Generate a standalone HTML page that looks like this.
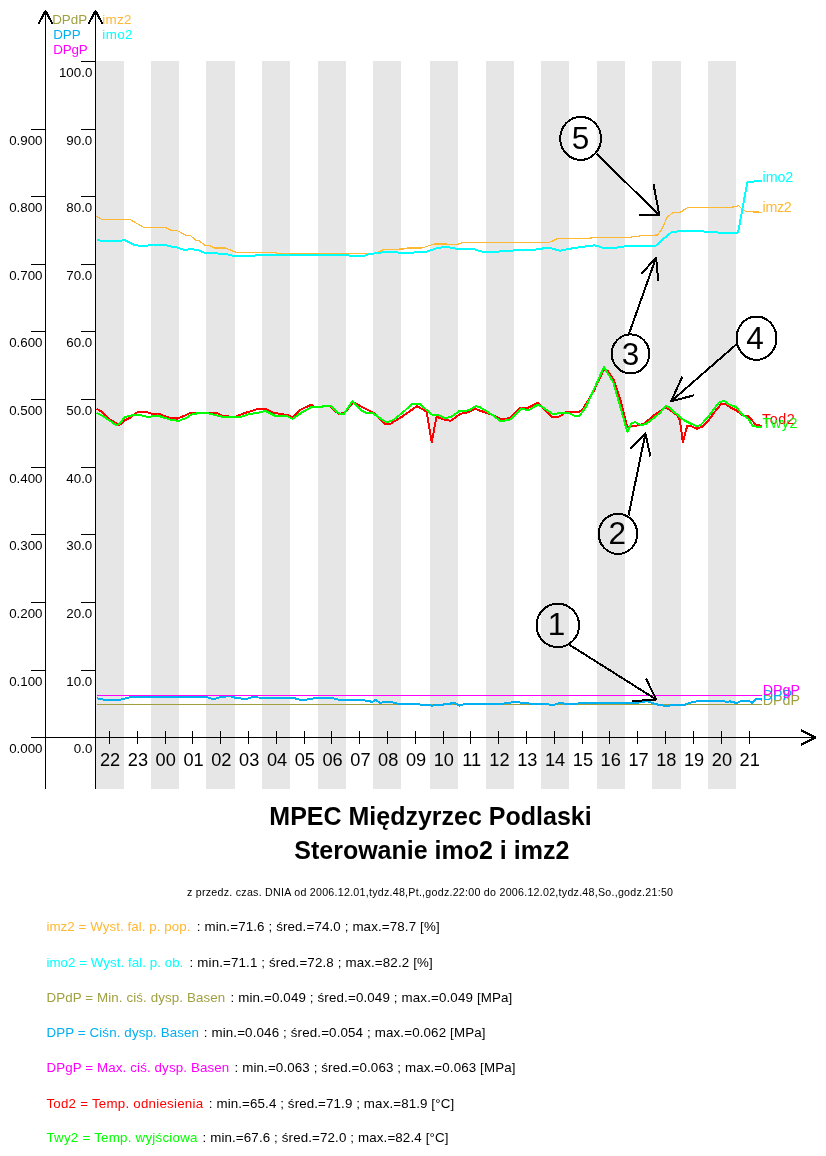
<!DOCTYPE html>
<html lang="pl"><head><meta charset="utf-8"><title>MPEC Międzyrzec Podlaski - Sterowanie imo2 i imz2</title>
<style>html,body{margin:0;padding:0;background:#fff}body{width:826px;height:1156px;overflow:hidden}svg{display:block}text{font-family:"Liberation Sans", sans-serif}</style>
</head><body>
<svg width="826" height="1156" viewBox="0 0 826 1156">
<rect x="0" y="0" width="826" height="1156" fill="#ffffff"/>
<g fill="#e6e6e6" shape-rendering="crispEdges">
<rect x="96" y="61" width="28" height="728"/>
<rect x="151" y="61" width="28" height="728"/>
<rect x="206" y="61" width="29" height="728"/>
<rect x="262" y="61" width="28" height="728"/>
<rect x="318" y="61" width="28" height="728"/>
<rect x="373" y="61" width="28" height="728"/>
<rect x="430" y="61" width="28" height="728"/>
<rect x="486" y="61" width="28" height="728"/>
<rect x="541" y="61" width="28" height="728"/>
<rect x="597" y="61" width="28" height="728"/>
<rect x="652" y="61" width="29" height="728"/>
<rect x="708" y="61" width="28" height="728"/>
</g>
<g stroke="#000" stroke-width="1.3" fill="none" shape-rendering="crispEdges">
<line x1="45.5" y1="12" x2="45.5" y2="789"/>
<line x1="95.5" y1="12" x2="95.5" y2="789"/>
<line x1="31" y1="737.5" x2="815" y2="737.5"/>
<line x1="31" y1="670.5" x2="45.5" y2="670.5"/>
<line x1="31" y1="602.5" x2="45.5" y2="602.5"/>
<line x1="31" y1="534.5" x2="45.5" y2="534.5"/>
<line x1="31" y1="467.5" x2="45.5" y2="467.5"/>
<line x1="31" y1="399.5" x2="45.5" y2="399.5"/>
<line x1="31" y1="331.5" x2="45.5" y2="331.5"/>
<line x1="31" y1="264.5" x2="45.5" y2="264.5"/>
<line x1="31" y1="196.5" x2="45.5" y2="196.5"/>
<line x1="31" y1="129.5" x2="45.5" y2="129.5"/>
<line x1="81" y1="670.5" x2="95.5" y2="670.5"/>
<line x1="81" y1="602.5" x2="95.5" y2="602.5"/>
<line x1="81" y1="534.5" x2="95.5" y2="534.5"/>
<line x1="81" y1="467.5" x2="95.5" y2="467.5"/>
<line x1="81" y1="399.5" x2="95.5" y2="399.5"/>
<line x1="81" y1="331.5" x2="95.5" y2="331.5"/>
<line x1="81" y1="264.5" x2="95.5" y2="264.5"/>
<line x1="81" y1="196.5" x2="95.5" y2="196.5"/>
<line x1="81" y1="129.5" x2="95.5" y2="129.5"/>
<line x1="81" y1="61.5" x2="95.5" y2="61.5"/>
<line x1="109.5" y1="731" x2="109.5" y2="744"/>
<line x1="137.5" y1="731" x2="137.5" y2="744"/>
<line x1="165.5" y1="731" x2="165.5" y2="744"/>
<line x1="192.5" y1="731" x2="192.5" y2="744"/>
<line x1="220.5" y1="731" x2="220.5" y2="744"/>
<line x1="248.5" y1="731" x2="248.5" y2="744"/>
<line x1="276.5" y1="731" x2="276.5" y2="744"/>
<line x1="304.5" y1="731" x2="304.5" y2="744"/>
<line x1="331.5" y1="731" x2="331.5" y2="744"/>
<line x1="359.5" y1="731" x2="359.5" y2="744"/>
<line x1="387.5" y1="731" x2="387.5" y2="744"/>
<line x1="415.5" y1="731" x2="415.5" y2="744"/>
<line x1="443.5" y1="731" x2="443.5" y2="744"/>
<line x1="470.5" y1="731" x2="470.5" y2="744"/>
<line x1="498.5" y1="731" x2="498.5" y2="744"/>
<line x1="526.5" y1="731" x2="526.5" y2="744"/>
<line x1="554.5" y1="731" x2="554.5" y2="744"/>
<line x1="582.5" y1="731" x2="582.5" y2="744"/>
<line x1="609.5" y1="731" x2="609.5" y2="744"/>
<line x1="637.5" y1="731" x2="637.5" y2="744"/>
<line x1="665.5" y1="731" x2="665.5" y2="744"/>
<line x1="693.5" y1="731" x2="693.5" y2="744"/>
<line x1="721.5" y1="731" x2="721.5" y2="744"/>
<line x1="749.5" y1="731" x2="749.5" y2="744"/>
</g>
<g stroke="#000" stroke-width="2" fill="none" stroke-linecap="square" stroke-linejoin="bevel" shape-rendering="crispEdges">
<polyline points="39,23 45.5,10.8 52,23"/>
<polyline points="89,23 95.5,10.8 102,23"/>
<polyline points="801.6,730.6 815.3,737.5 801.6,744.4"/>
</g>
<g font-size="13.33px" fill="#000" text-anchor="end">
<text x="42.5" y="752.6">0.000</text>
<text x="42.5" y="685.6">0.100</text>
<text x="42.5" y="617.6">0.200</text>
<text x="42.5" y="549.6">0.300</text>
<text x="42.5" y="482.6">0.400</text>
<text x="42.5" y="414.6">0.500</text>
<text x="42.5" y="346.6">0.600</text>
<text x="42.5" y="279.6">0.700</text>
<text x="42.5" y="211.6">0.800</text>
<text x="42.5" y="144.6">0.900</text>
<text x="92.3" y="752.6">0.0</text>
<text x="92.3" y="685.6">10.0</text>
<text x="92.3" y="617.6">20.0</text>
<text x="92.3" y="549.6">30.0</text>
<text x="92.3" y="482.6">40.0</text>
<text x="92.3" y="414.6">50.0</text>
<text x="92.3" y="346.6">60.0</text>
<text x="92.3" y="279.6">70.0</text>
<text x="92.3" y="211.6">80.0</text>
<text x="92.3" y="144.6">90.0</text>
<text x="92.3" y="76.6">100.0</text>
</g>
<g font-size="18.2px" fill="#000" text-anchor="middle">
<text x="110.1" y="765.5">22</text>
<text x="137.9" y="765.5">23</text>
<text x="165.7" y="765.5">00</text>
<text x="193.5" y="765.5">01</text>
<text x="221.3" y="765.5">02</text>
<text x="249.2" y="765.5">03</text>
<text x="277.0" y="765.5">04</text>
<text x="304.8" y="765.5">05</text>
<text x="332.6" y="765.5">06</text>
<text x="360.4" y="765.5">07</text>
<text x="388.2" y="765.5">08</text>
<text x="416.0" y="765.5">09</text>
<text x="443.8" y="765.5">10</text>
<text x="471.6" y="765.5">11</text>
<text x="499.4" y="765.5">12</text>
<text x="527.3" y="765.5">13</text>
<text x="555.1" y="765.5">14</text>
<text x="582.9" y="765.5">15</text>
<text x="610.7" y="765.5">16</text>
<text x="638.5" y="765.5">17</text>
<text x="666.3" y="765.5">18</text>
<text x="694.1" y="765.5">19</text>
<text x="721.9" y="765.5">20</text>
<text x="749.7" y="765.5">21</text>
</g>
<g font-size="13.4px">
<text x="52.2" y="23.7" fill="#a0a040" textLength="35">DPdP</text>
<text x="53.2" y="38.6" fill="#00b0f0">DPP</text>
<text x="53.2" y="53.7" fill="#ff00ff" textLength="34.5">DPgP</text>
<text x="102.3" y="23.7" fill="#ffb833" textLength="29.2">imz2</text>
<text x="102.3" y="38.7" fill="#00ffff" textLength="30.2">imo2</text>
</g>
<polyline points="97.0,704.5 762.0,704.5" fill="none" stroke="#a0a040" stroke-width="1" stroke-linejoin="round" shape-rendering="crispEdges" />
<polyline points="97.3,698.3 104.5,699.8 117.6,700.3 129.2,697.4 136.5,696.6 206.3,696.9 213.5,699.2 219.4,697.4 229.5,696.0 235.3,697.7 245.5,699.2 251.3,697.4 293.5,698.0 302.2,700.3 313.8,698.3 331.6,698.0 338.9,699.8 363.6,700.3 372.3,701.8 375.8,699.8 379.6,702.7 389.8,701.8 398.5,703.8 418.8,704.4 431.9,705.6 447.9,704.1 454.3,702.7 459.5,705.6 465.3,703.8 494.4,704.4 506.0,703.3 516.2,701.8 523.5,703.3 546.7,704.1 552.6,705.3 560.0,702.7 566.7,704.1 593.4,702.7 610.1,703.4 633.5,703.4 646.9,701.1 656.9,704.4 663.6,705.7 683.6,705.1 693.7,701.7 707.0,700.7 717.1,700.7 727.1,701.7 730.0,701.4 737.0,703.1 741.6,700.8 748.6,700.5 752.1,703.1 756.2,698.5 762.0,699.6" fill="none" stroke="#00b0f0" stroke-width="2" stroke-linejoin="round" shape-rendering="crispEdges" />
<polyline points="97.0,695.5 762.0,695.5" fill="none" stroke="#ff00ff" stroke-width="1" stroke-linejoin="round" shape-rendering="crispEdges" />
<polyline points="96.5,216.3 102.0,219.6 130.3,219.6 143.4,227.2 165.2,227.5 170.6,230.1 177.2,230.5 185.9,235.3 190.2,235.3 195.7,240.3 199.0,240.7 205.5,245.8 209.9,245.8 214.2,247.9 225.1,247.9 236.0,252.3 260.0,252.7 273.0,252.3 278.5,253.3 375.5,253.3 384.2,249.4 403.8,249.0 408.2,247.9 422.3,247.9 432.1,244.6 434.4,244.0 458.3,244.2 462.7,242.5 549.9,242.1 557.5,238.6 590.2,238.1 594.5,237.5 630.1,237.2 641.0,235.8 657.5,235.0 661.6,229.8 667.0,217.5 672.5,212.8 680.7,212.0 687.0,207.9 730.0,207.4 735.8,206.6 738.7,205.5 741.6,208.8 746.3,211.7 762.0,212.2" fill="none" stroke="#ffb833" stroke-width="1.2" stroke-linejoin="round" shape-rendering="crispEdges" />
<polyline points="97.0,239.9 102.0,241.0 116.1,241.0 124.9,240.3 134.7,245.1 144.5,246.2 153.2,244.5 164.1,244.7 170.6,246.4 177.2,247.5 184.8,250.1 191.3,249.0 197.9,250.1 205.5,253.0 225.1,253.8 233.8,256.0 251.3,256.0 262.1,254.5 270.0,255.0 347.2,255.0 350.5,256.0 364.0,256.0 368.5,254.2 371.1,253.8 377.7,253.1 385.3,251.6 394.0,251.6 400.5,253.1 408.2,252.9 425.6,251.8 430.0,250.6 436.5,248.4 446.3,246.6 456.1,248.8 473.6,249.2 483.4,251.9 495.4,251.9 508.4,250.6 532.4,250.1 548.8,247.5 559.7,250.8 569.5,248.8 582.5,246.9 594.5,245.3 602.1,247.5 613.7,248.1 627.4,245.9 643.8,246.5 656.1,245.6 662.9,239.3 671.1,232.5 679.3,231.1 714.9,231.7 720.4,233.3 737.6,232.8 738.7,229.7 742.3,209.2 747.4,182.3 752.0,181.6 762.0,181.2" fill="none" stroke="#00ffff" stroke-width="2" stroke-linejoin="round" shape-rendering="crispEdges" />
<polyline points="96.5,408.8 100.9,411.2 109.6,419.2 119.4,425.1 124.9,420.3 131.4,417.0 135.8,412.7 140.1,411.8 146.7,412.0 152.1,413.8 159.7,414.2 168.4,417.5 177.2,418.6 183.7,416.0 190.2,412.9 216.4,412.7 222.9,416.0 234.9,417.0 242.5,413.8 257.8,409.0 265.4,409.0 273.1,412.7 288.3,415.3 292.7,417.5 299.2,410.5 311.2,404.6 314.5,406.8 329.7,406.2 338.4,413.8 343.9,413.1 353.7,402.4 362.4,407.2 373.3,412.7 384.2,423.6 390.7,423.6 401.6,417.0 416.9,406.2 426.7,411.6 431.7,442.3 436.5,416.7 443.1,419.3 450.7,420.8 460.5,413.8 469.2,412.1 474.7,408.8 492.1,414.9 501.9,419.3 509.5,418.2 520.4,407.7 528.1,407.7 537.9,402.7 552.0,416.9 558.6,416.9 566.2,412.1 575.0,411.7 579.4,411.7 582.6,409.6 593.5,391.6 603.9,369.3 607.7,370.9 614.2,380.7 620.8,401.4 627.3,427.5 632.7,425.9 638.2,425.4 644.7,423.2 653.4,415.6 665.0,407.9 668.5,409.0 677.5,415.7 679.8,420.0 682.9,442.3 687.3,425.6 691.5,426.2 696.9,428.8 701.9,426.9 708.3,420.5 715.0,411.5 721.0,404.2 724.8,403.5 731.2,407.8 736.3,410.3 742.6,415.4 748.3,416.1 752.5,421.0 756.6,425.3 762.0,425.6" fill="none" stroke="#ff0000" stroke-width="2" stroke-linejoin="round" shape-rendering="crispEdges" />
<polyline points="96.5,412.7 103.1,416.0 116.1,425.1 119.4,424.2 124.9,417.0 132.5,415.3 140.1,414.9 147.7,417.0 157.6,415.5 164.1,417.7 172.8,420.3 179.3,420.7 185.9,418.1 192.4,414.2 199.0,413.1 207.7,413.1 220.7,416.4 229.5,417.5 240.4,417.0 249.1,414.2 257.8,412.7 265.4,411.0 275.3,416.0 287.2,416.0 292.7,418.8 301.4,412.7 311.2,407.2 321.0,407.2 324.3,405.7 330.8,406.2 339.5,413.8 343.9,413.8 352.6,401.1 361.3,410.5 365.7,412.7 372.2,412.7 386.4,422.5 392.9,420.3 403.8,411.6 412.5,403.5 419.1,403.5 432.1,414.6 438.7,415.4 445.3,418.2 451.8,416.5 459.4,411.0 469.2,410.4 475.8,406.2 480.1,407.3 493.2,415.4 500.8,421.5 510.6,419.3 521.5,408.4 528.1,410.6 537.9,404.5 543.3,407.7 553.1,414.3 560.7,412.8 569.5,413.2 575.0,416.1 579.4,416.1 585.9,406.8 591.3,395.2 603.9,367.1 613.1,381.8 620.2,406.5 627.3,431.9 631.6,423.2 634.9,422.1 640.4,424.8 645.8,424.3 655.6,416.6 660.0,412.9 665.7,406.1 668.9,407.2 675.3,412.9 684.2,420.5 690.5,423.5 696.9,426.2 700.7,425.0 708.3,416.7 714.0,409.0 719.7,401.6 724.8,401.4 729.3,404.6 736.3,407.2 742.6,414.8 748.3,418.6 752.2,425.4 756.7,426.6 762.0,427.4" fill="none" stroke="#00ff00" stroke-width="2" stroke-linejoin="round" shape-rendering="crispEdges" />
<g font-size="14.3px">
<text x="762.6" y="211.7" fill="#ffb833" textLength="29.2">imz2</text>
<text x="762.6" y="181.7" fill="#00ffff" textLength="30.6">imo2</text>
<text x="762" y="424.4" fill="#ff0000" textLength="32.7">Tod2</text>
<text x="762.5" y="427.9" fill="#00ff00" textLength="35">Twy2</text>
<text x="762.8" y="704.7" fill="#a0a040" textLength="37.2">DPdP</text>
<text x="762.8" y="700.1" fill="#00b0f0">DPP</text>
<text x="762.8" y="694.9" fill="#ff00ff" textLength="37.2">DPgP</text>
</g>
<g stroke="#000" stroke-width="2" fill="none" stroke-linecap="butt" stroke-linejoin="round" shape-rendering="crispEdges">
<ellipse cx="557.8" cy="625.4" rx="21.3" ry="21.7"/>
<line x1="569.5" y1="644.8" x2="656.2" y2="699.5"/>
<polyline points="646.0,678.5 656.2,699.5 632.0,701.2"/>
<ellipse cx="618.0" cy="533.9" rx="19.3" ry="20.0"/>
<line x1="628.5" y1="515.5" x2="645.4" y2="433.5"/>
<polyline points="629.8,448.8 645.4,433.5 650.4,456.4"/>
<ellipse cx="630.5" cy="353.9" rx="18.8" ry="19.5"/>
<line x1="628.9" y1="334.0" x2="656.1" y2="257.5"/>
<polyline points="641.6,273.7 656.1,257.5 658.3,281.0"/>
<ellipse cx="756.5" cy="338.2" rx="20.0" ry="21.7"/>
<line x1="736.8" y1="344.0" x2="671.0" y2="401.4"/>
<polyline points="682.4,376.6 671.0,401.4 693.9,395.3"/>
<ellipse cx="580.6" cy="138.4" rx="20.4" ry="21.5"/>
<line x1="596.5" y1="153.7" x2="659.4" y2="215.3"/>
<polyline points="653.5,184.2 659.4,215.3 638.7,215.3"/>
</g>
<g font-size="31.5px" fill="#000" text-anchor="middle">
<text x="556.6" y="634.8">1</text>
<text x="617.3" y="544.2">2</text>
<text x="630.4" y="364.7">3</text>
<text x="755.0" y="348.9">4</text>
<text x="580.4" y="149.4">5</text>
</g>
<g font-size="25px" font-weight="bold" fill="#000" text-anchor="middle">
<text x="430.5" y="825.2">MPEC Międzyrzec Podlaski</text>
<text x="431.8" y="859.2">Sterowanie imo2 i imz2</text>
</g>
<text x="187" y="896" font-size="10.67px" fill="#000" textLength="486" lengthAdjust="spacing">z przedz. czas. DNIA od 2006.12.01,tydz.48,Pt.,godz.22:00 do 2006.12.02,tydz.48,So.,godz.21:50</text>
<g font-size="13.33px">
<text x="46.4" y="930.5" fill="#ffb833" textLength="144.1" lengthAdjust="spacing">imz2 = Wyst. fal. p. pop.</text>
<text x="196.8" y="930.5" fill="#000" textLength="242.8" lengthAdjust="spacing">: min.=71.6 ; śred.=74.0 ; max.=78.7 [%]</text>
<text x="46.4" y="966.5" fill="#00ffff" textLength="136.9" lengthAdjust="spacing">imo2 = Wyst. fal. p. ob.</text>
<text x="189.6" y="966.5" fill="#000" textLength="243.1" lengthAdjust="spacing">: min.=71.1 ; śred.=72.8 ; max.=82.2 [%]</text>
<text x="46.4" y="1001.7" fill="#a0a040" textLength="178.8" lengthAdjust="spacing">DPdP = Min. ciś. dysp. Basen</text>
<text x="230.5" y="1001.7" fill="#000" textLength="281.8" lengthAdjust="spacing">: min.=0.049 ; śred.=0.049 ; max.=0.049 [MPa]</text>
<text x="46.4" y="1037.3" fill="#00b0f0" textLength="152.6" lengthAdjust="spacing">DPP = Ciśn. dysp. Basen</text>
<text x="203.7" y="1037.3" fill="#000" textLength="281.8" lengthAdjust="spacing">: min.=0.046 ; śred.=0.054 ; max.=0.062 [MPa]</text>
<text x="46.4" y="1071.5" fill="#ff00ff" textLength="182.8" lengthAdjust="spacing">DPgP = Max. ciś. dysp. Basen</text>
<text x="234.6" y="1071.5" fill="#000" textLength="280.8" lengthAdjust="spacing">: min.=0.063 ; śred.=0.063 ; max.=0.063 [MPa]</text>
<text x="46.4" y="1107.7" fill="#ff0000" textLength="156.7" lengthAdjust="spacing">Tod2 = Temp. odniesienia</text>
<text x="208.8" y="1107.7" fill="#000" textLength="245.3" lengthAdjust="spacing">: min.=65.4 ; śred.=71.9 ; max.=81.9 [°C]</text>
<text x="46.4" y="1142.2" fill="#00ff00" textLength="151.1" lengthAdjust="spacing">Twy2 = Temp. wyjściowa</text>
<text x="202.5" y="1142.2" fill="#000" textLength="245.9" lengthAdjust="spacing">: min.=67.6 ; śred.=72.0 ; max.=82.4 [°C]</text>
</g>
</svg>
</body></html>
